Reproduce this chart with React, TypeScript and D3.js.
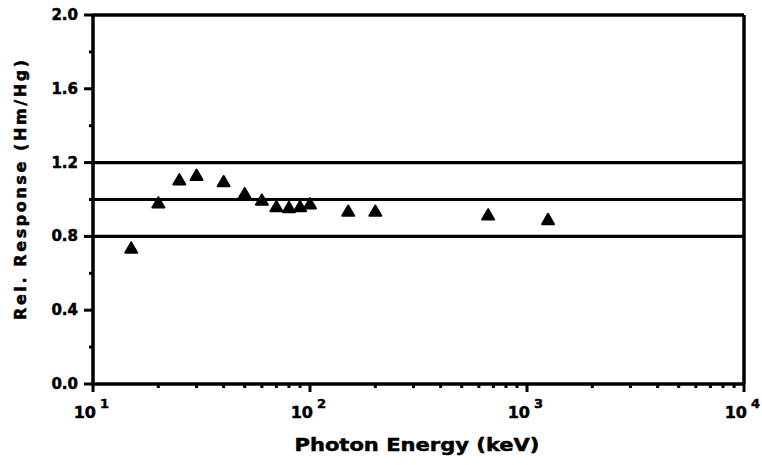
import React from "react";
import * as d3 from "d3";

const energies = [15, 20, 25, 30, 40, 50, 60, 70, 80, 90, 100, 150, 200, 662, 1250];
const responses = [0.73, 0.975, 1.1, 1.125, 1.09, 1.025, 0.99, 0.955, 0.95, 0.955, 0.97, 0.93, 0.93, 0.91, 0.885];
const refLines = [0.8, 1.0, 1.2];
const yMajor = [0, 0.4, 0.8, 1.2, 1.6, 2.0];
const yMinor = [0.2, 0.6, 1.0, 1.4, 1.8];
const xDecades = [1, 2, 3, 4];

const W = 762, H = 465;
const left = 93, right = 744, top = 15, bottom = 384;
const FONT = "'DejaVu Sans', 'Liberation Sans', Arial, sans-serif";
const heavy = { fontFamily: FONT, fontWeight: "bold" as const, stroke: "#000", strokeWidth: 0.5 };

export default function App() {
  const x = d3.scaleLog().domain([10, 1e4]).range([left, right]);
  const y = d3.scaleLinear().domain([0, 2]).range([bottom, top]);
  const tri = d3.symbol().type(d3.symbolTriangle).size(62)()!;
  const minorX: number[] = [];
  for (const p of [1, 2, 3]) for (let k = 2; k <= 9; k++) minorX.push(k * Math.pow(10, p));

  return (
    <svg width={W} height={H} style={{ position: "absolute", left: 0, top: 0, background: "#fff" }}>
      <rect x={0} y={0} width={W} height={H} fill="#fff" />
      {refLines.map((v) => (
        <line key={v} x1={left} x2={right} y1={y(v)} y2={y(v)} stroke="#000" strokeWidth={3.2} />
      ))}
      <line x1={left} x2={left} y1={top} y2={bottom} stroke="#000" strokeWidth={3.5} />
      <line x1={left} x2={right} y1={bottom} y2={bottom} stroke="#000" strokeWidth={3.5} />
      <line x1={left} x2={right} y1={top} y2={top} stroke="#000" strokeWidth={3.5} />
      <line x1={right} x2={right} y1={top} y2={bottom} stroke="#000" strokeWidth={3.5} />
      {yMajor.map((v) => (
        <g key={v}>
          <line x1={left - 9} x2={left} y1={y(v)} y2={y(v)} stroke="#000" strokeWidth={3} />
          <text x={left - 15} y={y(v) + 5} textAnchor="end" fontSize={15} {...heavy}>
            {v.toFixed(1)}
          </text>
        </g>
      ))}
      {yMinor.map((v) => (
        <line key={v} x1={left - 4} x2={left} y1={y(v)} y2={y(v)} stroke="#000" strokeWidth={3} />
      ))}
      {minorX.map((v) => (
        <line key={v} x1={x(v)} x2={x(v)} y1={bottom} y2={bottom + 4} stroke="#000" strokeWidth={3} />
      ))}
      {xDecades.map((p) => {
        const xv = x(Math.pow(10, p));
        return (
          <g key={p}>
            <line x1={xv} x2={xv} y1={bottom} y2={bottom + 8} stroke="#000" strokeWidth={3} />
            <text x={xv + 3} y={418} textAnchor="end" fontSize={16} {...heavy}>
              10
            </text>
            <text x={xv + 7} y={408} textAnchor="start" fontSize={13} {...heavy}>
              {p}
            </text>
          </g>
        );
      })}
      {energies.map((e, i) => (
        <path
          key={e}
          d={tri}
          transform={`translate(${x(e)},${y(responses[i])})`}
          fill="#000"
          stroke="#000"
          strokeWidth={2}
          strokeLinejoin="round"
        />
      ))}
      <text x={417} y={451} textAnchor="middle" fontSize={18} textLength={245} lengthAdjust="spacingAndGlyphs" {...heavy}>
        Photon Energy (keV)
      </text>
      <text
        transform={`translate(26,190) rotate(-90)`}
        textAnchor="middle"
        fontSize={16}
        textLength={260}
        lengthAdjust="spacing"
        {...heavy}
      >
        Rel. Response (Hm/Hg)
      </text>
    </svg>
  );
}
